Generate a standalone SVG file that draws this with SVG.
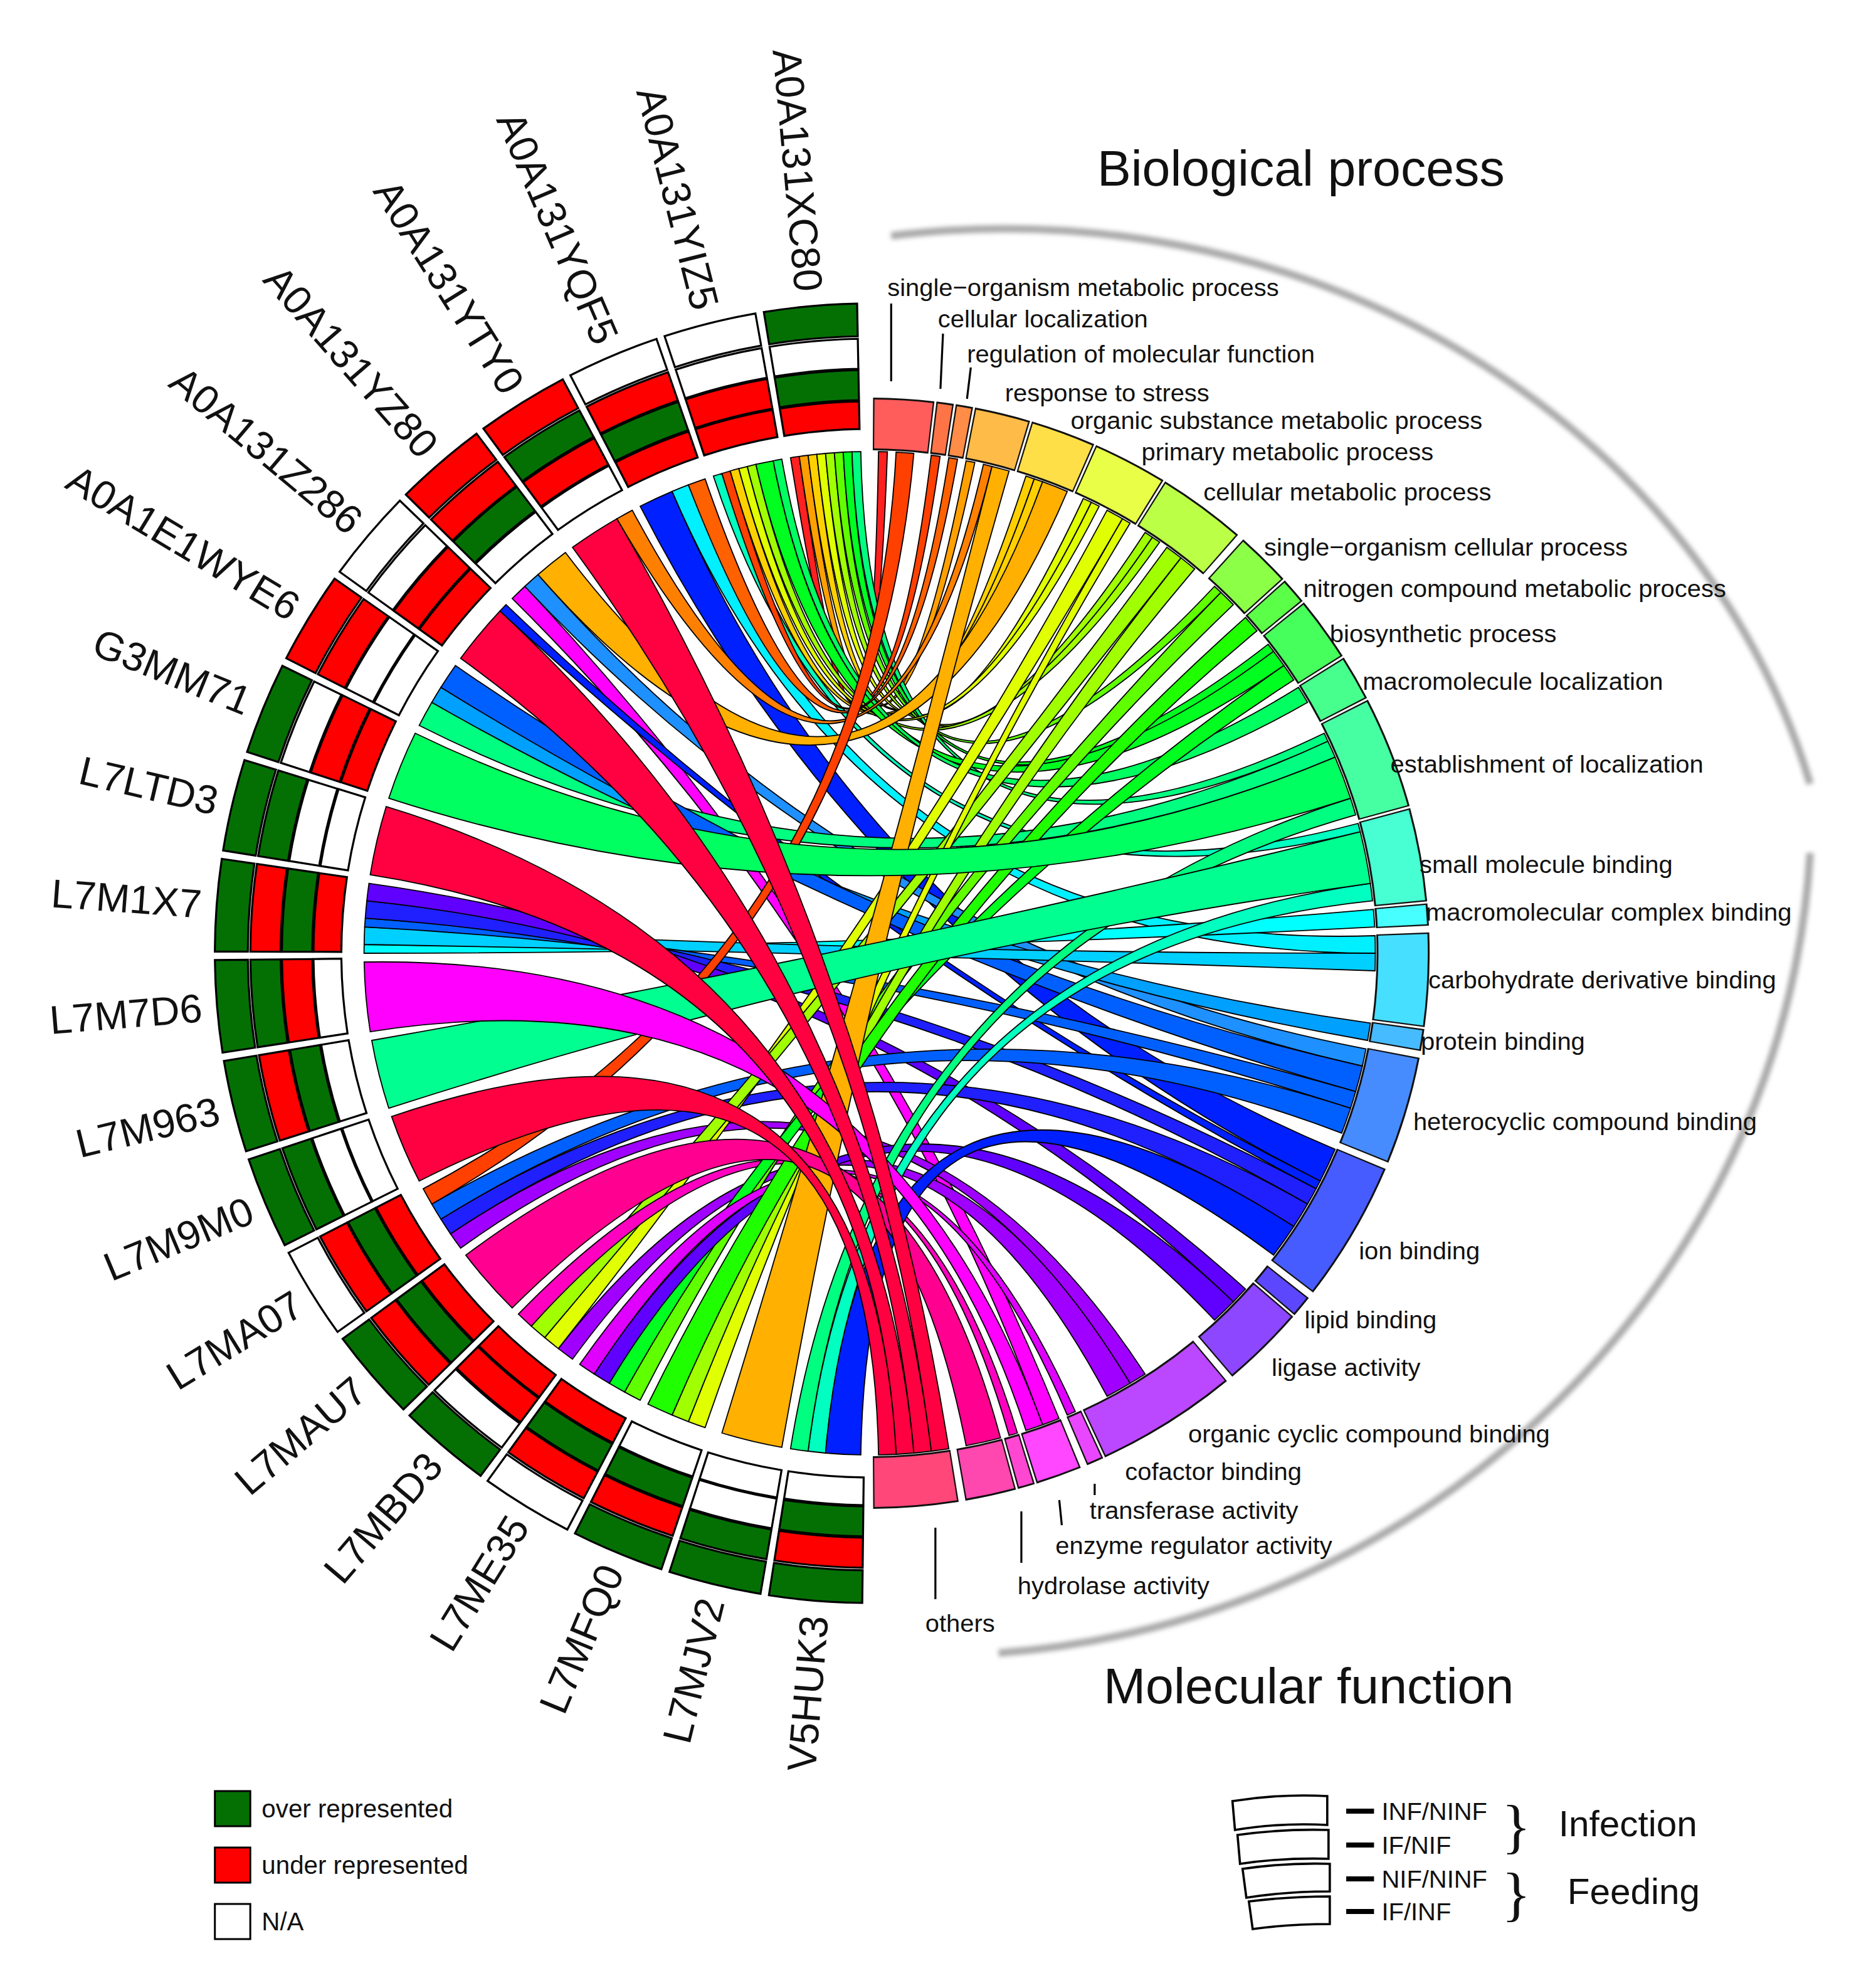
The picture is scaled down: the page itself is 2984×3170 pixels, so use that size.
<svg xmlns="http://www.w3.org/2000/svg" xmlns:xlink="http://www.w3.org/1999/xlink" width="2984" height="3170" viewBox="0 0 2984 3170">
<style>
text{font-family:"Liberation Sans",Arial,sans-serif;fill:#111}
.gl{font-size:32px}
.go{font-size:19.8px}
.lg{font-size:20px}
.ttl{font-size:40px}
.g{fill:#047004}.r{fill:#ff0000}.w{fill:#fff}
.sec{stroke:#000;stroke-width:1.6}
.gb{fill:none;stroke:#111;stroke-width:42}
.gf{fill:none;stroke-width:39}
#connectors path{stroke:#000;stroke-width:0.9}
.ld{stroke:#000;stroke-width:1.6}
</style>
<defs>
<path id="A" d="M-37.04,-516.7 A518,518 0 0 1 37.04,-516.7 L35.18,-490.7 A492,492 0 0 0 -35.18,-490.7Z"/>
<path id="B" d="M-35.04,-488.7 A490,490 0 0 1 35.04,-488.7 L33.32,-464.8 A466,466 0 0 0 -33.32,-464.8Z"/>
<path id="C" d="M-33.25,-463.8 A465,465 0 0 1 33.25,-463.8 L31.53,-439.9 A441,441 0 0 0 -31.53,-439.9Z"/>
<path id="D" d="M-31.46,-438.9 A440,440 0 0 1 31.46,-438.9 L29.89,-416.9 A418,418 0 0 0 -29.89,-416.9Z"/>
<filter id="bl"><feGaussianBlur stdDeviation="1.8"/></filter>
</defs>
<rect width="2984" height="3170" fill="#fff"/>
<g transform="scale(2.016,2)">
<g id="titles">
<text class="ttl" x="868" y="148">Biological process</text>
<text class="ttl" x="873" y="1358">Molecular function</text>
<path d="M705,188 A660,600 0 0 1 1432,625" fill="none" stroke="#aaa" stroke-width="6" filter="url(#bl)"/>
<path d="M1432,680 A700,680 0 0 1 790,1318" fill="none" stroke="#aaa" stroke-width="6" filter="url(#bl)"/>
</g>

<g id="connectors" transform="translate(688,760)">
<path fill="#ff2020" d="M-62.6,-395.1 A400,400 0 0 1 -55.7,-396.1 Q0,0 7,-399.9 A400,400 0 0 1 14,-399.8 Q0,0 -62.6,-395.1Z"/>
<path fill="#ffa000" d="M-55.7,-396.1 A400,400 0 0 1 -48.7,-397.0 Q0,0 76.3,-392.6 A400,400 0 0 1 83.2,-391.3 Q0,0 -55.7,-396.1Z"/>
<path fill="#ffd000" d="M-48.7,-397.0 A400,400 0 0 1 -41.8,-397.8 Q0,0 123.6,-380.4 A400,400 0 0 1 130.2,-378.2 Q0,0 -48.7,-397.0Z"/>
<path fill="#e0ff00" d="M-41.8,-397.8 A400,400 0 0 1 -34.9,-398.5 Q0,0 169,-362.5 A400,400 0 0 1 175.4,-359.5 Q0,0 -41.8,-397.8Z"/>
<path fill="#a0ff00" d="M-34.9,-398.5 A400,400 0 0 1 -27.9,-399 Q0,0 217.9,-335.5 A400,400 0 0 1 223.7,-331.6 Q0,0 -34.9,-398.5Z"/>
<path fill="#60ff00" d="M-27.9,-399 A400,400 0 0 1 -20.9,-399.5 Q0,0 272.8,-292.5 A400,400 0 0 1 277.9,-287.7 Q0,0 -27.9,-399Z"/>
<path fill="#00ff20" d="M-20.9,-399.5 A400,400 0 0 1 -14,-399.8 Q0,0 315.2,-246.3 A400,400 0 0 1 319.5,-240.7 Q0,0 -20.9,-399.5Z"/>
<path fill="#00ff80" d="M-14,-399.8 A400,400 0 0 1 -7,-399.9 Q0,0 359.5,-175.4 A400,400 0 0 1 362.5,-169 Q0,0 -14,-399.8Z"/>
<path fill="#00ffc0" d="M-123.6,-380.4 A400,400 0 0 1 -116.9,-382.5 Q0,0 386.4,-103.5 A400,400 0 0 1 388.1,-96.8 Q0,0 -123.6,-380.4Z"/>
<path fill="#ff4000" d="M-116.9,-382.5 A400,400 0 0 1 -110.3,-384.5 Q0,0 48.7,-397 A400,400 0 0 1 55.7,-396.1 Q0,0 -116.9,-382.5Z"/>
<path fill="#ffd000" d="M-110.3,-384.5 A400,400 0 0 1 -103.5,-386.4 Q0,0 130.2,-378.2 A400,400 0 0 1 136.8,-375.9 Q0,0 -110.3,-384.5Z"/>
<path fill="#e0ff00" d="M-103.5,-386.4 A400,400 0 0 1 -96.8,-388.1 Q0,0 175.4,-359.5 A400,400 0 0 1 181.6,-356.4 Q0,0 -103.5,-386.4Z"/>
<path fill="#a0ff00" d="M-96.8,-388.1 A400,400 0 0 1 -90,-389.8 Q0,0 223.7,-331.6 A400,400 0 0 1 229.4,-327.7 Q0,0 -96.8,-388.1Z"/>
<path fill="#00ff20" d="M-90,-389.8 A400,400 0 0 1 -76.3,-392.6 Q0,0 319.5,-240.7 A400,400 0 0 1 327.7,-229.4 Q0,0 -90,-389.8Z"/>
<path fill="#00ff60" d="M-76.3,-392.6 A400,400 0 0 1 -69.5,-393.9 Q0,0 339.2,-212 A400,400 0 0 1 346.4,-200 Q0,0 -76.3,-392.6Z"/>
<path fill="#0020ff" d="M-181.6,-356.4 A400,400 0 0 1 -156.3,-368.2 Q0,0 368.2,156.3 A400,400 0 0 1 356.4,181.6 Q0,0 -181.6,-356.4Z"/>
<path fill="#00f0ff" d="M-156.3,-368.2 A400,400 0 0 1 -143.4,-373.4 Q0,0 399.8,-14 A400,400 0 0 1 400,0 Q0,0 -156.3,-368.2Z"/>
<path fill="#ff6000" d="M-143.4,-373.4 A400,400 0 0 1 -130.2,-378.2 Q0,0 62.6,-395.1 A400,400 0 0 1 69.5,-393.9 Q0,0 -143.4,-373.4Z"/>
<path fill="#ff8000" d="M-200,-346.4 A400,400 0 0 1 -187.8,-353.2 Q0,0 90,-389.8 A400,400 0 0 1 96.8,-388.1 Q0,0 -200,-346.4Z"/>
<path fill="#ff00ff" d="M-282.8,-282.8 A400,400 0 0 1 -272.8,-292.5 Q0,0 149.8,370.9 A400,400 0 0 1 136.8,375.9 Q0,0 -282.8,-282.8Z"/>
<path fill="#1e90ff" d="M-272.8,-292.5 A400,400 0 0 1 -262.4,-301.9 Q0,0 392.6,76.3 A400,400 0 0 1 389.8,90 Q0,0 -272.8,-292.5Z"/>
<path fill="#ffb000" d="M-262.4,-301.9 A400,400 0 0 1 -240.7,-319.5 Q0,0 136.8,-375.9 A400,400 0 0 1 156.3,-368.2 Q0,0 -262.4,-301.9Z"/>
<path fill="#0020ff" d="M-292.5,-272.8 A400,400 0 0 1 -287.7,-277.9 Q0,0 356.4,181.6 A400,400 0 0 1 353.2,187.8 Q0,0 -292.5,-272.8Z"/>
<path fill="#00ff80" d="M-356.4,-181.6 A400,400 0 0 1 -346.4,-200 Q0,0 362.5,-169 A400,400 0 0 1 368.2,-156.3 Q0,0 -356.4,-181.6Z"/>
<path fill="#00a0ff" d="M-346.4,-200 A400,400 0 0 1 -339.2,-212 Q0,0 396.1,55.7 A400,400 0 0 1 393.9,69.5 Q0,0 -346.4,-200Z"/>
<path fill="#0060ff" d="M-339.2,-212 A400,400 0 0 1 -327.7,-229.4 Q0,0 389.8,90 A400,400 0 0 1 384.5,110.3 Q0,0 -339.2,-212Z"/>
<path fill="#00ffff" d="M-400,0 A400,400 0 0 1 -399.9,-7 Q0,0 398.5,-34.9 A400,400 0 0 1 399.5,-20.9 Q0,0 -400,0Z"/>
<path fill="#00d0ff" d="M-399.9,-7 A400,400 0 0 1 -399.5,-20.9 Q0,0 400,0 A400,400 0 0 1 399.8,14 Q0,0 -399.9,-7Z"/>
<path fill="#0060ff" d="M-399.5,-20.9 A400,400 0 0 1 -399,-27.9 Q0,0 384.5,110.3 A400,400 0 0 1 380.4,123.6 Q0,0 -399.5,-20.9Z"/>
<path fill="#2020ff" d="M-399,-27.9 A400,400 0 0 1 -397.8,-41.8 Q0,0 353.2,187.8 A400,400 0 0 1 346.4,200 Q0,0 -399,-27.9Z"/>
<path fill="#6000ff" d="M-397.8,-41.8 A400,400 0 0 1 -396.1,-55.7 Q0,0 297.3,267.7 A400,400 0 0 1 287.7,277.9 Q0,0 -397.8,-41.8Z"/>
<path fill="#a000ff" d="M-323.6,235.1 A400,400 0 0 1 -331.6,223.7 Q0,0 217.9,335.5 A400,400 0 0 1 206,342.9 Q0,0 -323.6,235.1Z"/>
<path fill="#2020ff" d="M-331.6,223.7 A400,400 0 0 1 -339.2,212 Q0,0 346.4,200 A400,400 0 0 1 335.5,217.9 Q0,0 -331.6,223.7Z"/>
<path fill="#0060ff" d="M-339.2,212 A400,400 0 0 1 -346.4,200 Q0,0 380.4,123.6 A400,400 0 0 1 373.4,143.4 Q0,0 -339.2,212Z"/>
<path fill="#ff4000" d="M-346.4,200 A400,400 0 0 1 -353.2,187.8 Q0,0 20.9,-399.5 A400,400 0 0 1 34.9,-398.5 Q0,0 -346.4,200Z"/>
<path fill="#a000ff" d="M-235.1,323.6 A400,400 0 0 1 -246.3,315.2 Q0,0 206,342.9 A400,400 0 0 1 187.8,353.2 Q0,0 -235.1,323.6Z"/>
<path fill="#e0ff00" d="M-246.3,315.2 A400,400 0 0 1 -257.1,306.4 Q0,0 187.8,-353.2 A400,400 0 0 1 200,-346.4 Q0,0 -246.3,315.2Z"/>
<path fill="#a0ff00" d="M-257.1,306.4 A400,400 0 0 1 -267.7,297.3 Q0,0 235.1,-323.6 A400,400 0 0 1 246.3,-315.2 Q0,0 -257.1,306.4Z"/>
<path fill="#ff00c0" d="M-267.7,297.3 A400,400 0 0 1 -277.9,287.7 Q0,0 116.9,382.5 A400,400 0 0 1 110.3,384.5 Q0,0 -267.7,297.3Z"/>
<path fill="#60ff00" d="M-181.6,356.4 A400,400 0 0 1 -193.9,349.8 Q0,0 277.9,-287.7 A400,400 0 0 1 287.7,-277.9 Q0,0 -181.6,356.4Z"/>
<path fill="#00ff20" d="M-193.9,349.8 A400,400 0 0 1 -206,342.9 Q0,0 327.7,-229.4 A400,400 0 0 1 335.5,-217.9 Q0,0 -193.9,349.8Z"/>
<path fill="#6000ff" d="M-206,342.9 A400,400 0 0 1 -217.9,335.5 Q0,0 287.7,277.9 A400,400 0 0 1 272.8,292.5 Q0,0 -206,342.9Z"/>
<path fill="#e000ff" d="M-217.9,335.5 A400,400 0 0 1 -229.4,327.7 Q0,0 162.7,365.4 A400,400 0 0 1 156.3,368.2 Q0,0 -217.9,335.5Z"/>
<path fill="#e0ff00" d="M-130.2,378.2 A400,400 0 0 1 -143.4,373.4 Q0,0 200,-346.4 A400,400 0 0 1 206,-342.9 Q0,0 -130.2,378.2Z"/>
<path fill="#a0ff00" d="M-143.4,373.4 A400,400 0 0 1 -156.3,368.2 Q0,0 246.3,-315.2 A400,400 0 0 1 257.1,-306.4 Q0,0 -143.4,373.4Z"/>
<path fill="#20ff00" d="M-156.3,368.2 A400,400 0 0 1 -175.4,359.5 Q0,0 297.3,-267.7 A400,400 0 0 1 306.4,-257.1 Q0,0 -156.3,368.2Z"/>
<path fill="#00ffc0" d="M-34.9,398.5 A400,400 0 0 1 -48.7,397 Q0,0 396.1,-55.7 A400,400 0 0 1 397.8,-41.8 Q0,0 -34.9,398.5Z"/>
<path fill="#00ff80" d="M-48.7,397 A400,400 0 0 1 -62.6,395.1 Q0,0 380.4,-123.6 A400,400 0 0 1 384.5,-110.3 Q0,0 -48.7,397Z"/>
<path fill="#0020ff" d="M-7,399.9 A400,400 0 0 1 -34.9,398.5 Q0,0 335.5,217.9 A400,400 0 0 1 319.5,240.7 Q0,0 -7,399.9Z"/>
<path fill="#ffb000" d="M-69.5,393.9 A400,400 0 0 1 -116.9,382.5 Q0,0 96.8,-388.1 A400,400 0 0 1 110.3,-384.5 Q0,0 -69.5,393.9Z"/>
<path fill="#00ff60" d="M-380.4,-123.6 A400,400 0 0 1 -359.5,-175.4 Q0,0 368.2,-156.3 A400,400 0 0 1 380.4,-123.6 Q0,0 -380.4,-123.6Z"/>
<path fill="#00ff90" d="M-380.4,123.6 A400,400 0 0 1 -393.9,69.5 Q0,0 388.1,-96.8 A400,400 0 0 1 396.1,-55.7 Q0,0 -380.4,123.6Z"/>
<path fill="#ff0090" d="M-282.8,282.8 A400,400 0 0 1 -319.5,240.7 Q0,0 103.5,386.4 A400,400 0 0 1 76.3,392.6 Q0,0 -282.8,282.8Z"/>
<path fill="#ff00ff" d="M-395.1,62.6 A400,400 0 0 1 -399.9,7 Q0,0 136.8,375.9 A400,400 0 0 1 123.6,380.4 Q0,0 -395.1,62.6Z"/>
<path fill="#ff0040" d="M-235.1,-323.6 A400,400 0 0 1 -200,-346.4 Q0,0 62.6,395.1 A400,400 0 0 1 48.7,397 Q0,0 -235.1,-323.6Z"/>
<path fill="#ff0040" d="M-323.6,-235.1 A400,400 0 0 1 -292.5,-272.8 Q0,0 48.7,397 A400,400 0 0 1 34.9,398.5 Q0,0 -323.6,-235.1Z"/>
<path fill="#ff0040" d="M-395.1,-62.6 A400,400 0 0 1 -382.5,-116.9 Q0,0 34.9,398.5 A400,400 0 0 1 20.9,399.5 Q0,0 -395.1,-62.6Z"/>
<path fill="#ff0040" d="M-356.4,181.6 A400,400 0 0 1 -378.2,130.2 Q0,0 20.9,399.5 A400,400 0 0 1 7,399.9 Q0,0 -356.4,181.6Z"/>
</g>

<g id="go-ring" transform="translate(688,760)">
<circle r="422" pathLength="360" class="gb" stroke-dasharray="6.3 400" transform="rotate(-89.65)"/><circle r="422" pathLength="360" class="gf" stroke="#ff5c5c" stroke-dasharray="6 400" transform="rotate(-89.5)"/>
<circle r="422" pathLength="360" class="gb" stroke-dasharray="1.8 400" transform="rotate(-83.15)"/><circle r="422" pathLength="360" class="gf" stroke="#ff7447" stroke-dasharray="1.5 400" transform="rotate(-83)"/>
<circle r="422" pathLength="360" class="gb" stroke-dasharray="1.8 400" transform="rotate(-81.15)"/><circle r="422" pathLength="360" class="gf" stroke="#ff8c47" stroke-dasharray="1.5 400" transform="rotate(-81)"/>
<circle r="422" pathLength="360" class="gb" stroke-dasharray="5.8 400" transform="rotate(-79.15)"/><circle r="422" pathLength="360" class="gf" stroke="#ffbb47" stroke-dasharray="5.5 400" transform="rotate(-79)"/>
<circle r="422" pathLength="360" class="gb" stroke-dasharray="6.8 400" transform="rotate(-73.15)"/><circle r="422" pathLength="360" class="gf" stroke="#ffdf47" stroke-dasharray="6.5 400" transform="rotate(-73)"/>
<circle r="422" pathLength="360" class="gb" stroke-dasharray="7.8 400" transform="rotate(-66.15)"/><circle r="422" pathLength="360" class="gf" stroke="#e9ff47" stroke-dasharray="7.5 400" transform="rotate(-66)"/>
<circle r="422" pathLength="360" class="gb" stroke-dasharray="9.3 400" transform="rotate(-58.15)"/><circle r="422" pathLength="360" class="gf" stroke="#bbff47" stroke-dasharray="9 400" transform="rotate(-58)"/>
<circle r="422" pathLength="360" class="gb" stroke-dasharray="5.8 400" transform="rotate(-48.15)"/><circle r="422" pathLength="360" class="gf" stroke="#8cff47" stroke-dasharray="5.5 400" transform="rotate(-48)"/>
<circle r="422" pathLength="360" class="gb" stroke-dasharray="2.8 400" transform="rotate(-42.15)"/><circle r="422" pathLength="360" class="gf" stroke="#5cff47" stroke-dasharray="2.5 400" transform="rotate(-42)"/>
<circle r="422" pathLength="360" class="gb" stroke-dasharray="6.8 400" transform="rotate(-39.15)"/><circle r="422" pathLength="360" class="gf" stroke="#47ff5c" stroke-dasharray="6.5 400" transform="rotate(-39)"/>
<circle r="422" pathLength="360" class="gb" stroke-dasharray="4.8 400" transform="rotate(-32.15)"/><circle r="422" pathLength="360" class="gf" stroke="#47ff8c" stroke-dasharray="4.5 400" transform="rotate(-32)"/>
<circle r="422" pathLength="360" class="gb" stroke-dasharray="11.8 400" transform="rotate(-27.15)"/><circle r="422" pathLength="360" class="gf" stroke="#47ffa3" stroke-dasharray="11.5 400" transform="rotate(-27)"/>
<circle r="422" pathLength="360" class="gb" stroke-dasharray="9.8 400" transform="rotate(-15.15)"/><circle r="422" pathLength="360" class="gf" stroke="#47ffd2" stroke-dasharray="9.5 400" transform="rotate(-15)"/>
<circle r="422" pathLength="360" class="gb" stroke-dasharray="2.3 400" transform="rotate(-5.15)"/><circle r="422" pathLength="360" class="gf" stroke="#47ffff" stroke-dasharray="2 400" transform="rotate(-5)"/>
<circle r="422" pathLength="360" class="gb" stroke-dasharray="9.8 400" transform="rotate(-2.15)"/><circle r="422" pathLength="360" class="gf" stroke="#47dfff" stroke-dasharray="9.5 400" transform="rotate(-2)"/>
<circle r="422" pathLength="360" class="gb" stroke-dasharray="2.3 400" transform="rotate(7.85)"/><circle r="422" pathLength="360" class="gf" stroke="#47bbff" stroke-dasharray="2 400" transform="rotate(8)"/>
<circle r="422" pathLength="360" class="gb" stroke-dasharray="11.3 400" transform="rotate(10.85)"/><circle r="422" pathLength="360" class="gf" stroke="#478cff" stroke-dasharray="11 400" transform="rotate(11)"/>
<circle r="422" pathLength="360" class="gb" stroke-dasharray="14.8 400" transform="rotate(22.85)"/><circle r="422" pathLength="360" class="gf" stroke="#475cff" stroke-dasharray="14.5 400" transform="rotate(23)"/>
<circle r="422" pathLength="360" class="gb" stroke-dasharray="2.3 400" transform="rotate(38.35)"/><circle r="422" pathLength="360" class="gf" stroke="#5c47ff" stroke-dasharray="2 400" transform="rotate(38.5)"/>
<circle r="422" pathLength="360" class="gb" stroke-dasharray="8.8 400" transform="rotate(40.85)"/><circle r="422" pathLength="360" class="gf" stroke="#8c47ff" stroke-dasharray="8.5 400" transform="rotate(41)"/>
<circle r="422" pathLength="360" class="gb" stroke-dasharray="14.8 400" transform="rotate(50.35)"/><circle r="422" pathLength="360" class="gf" stroke="#bb47ff" stroke-dasharray="14.5 400" transform="rotate(50.5)"/>
<circle r="422" pathLength="360" class="gb" stroke-dasharray="1.8 400" transform="rotate(65.35)"/><circle r="422" pathLength="360" class="gf" stroke="#e947ff" stroke-dasharray="1.5 400" transform="rotate(65.5)"/>
<circle r="422" pathLength="360" class="gb" stroke-dasharray="4.8 400" transform="rotate(67.85)"/><circle r="422" pathLength="360" class="gf" stroke="#ff47ff" stroke-dasharray="4.5 400" transform="rotate(68)"/>
<circle r="422" pathLength="360" class="gb" stroke-dasharray="1.8 400" transform="rotate(72.85)"/><circle r="422" pathLength="360" class="gf" stroke="#ff47d2" stroke-dasharray="1.5 400" transform="rotate(73)"/>
<circle r="422" pathLength="360" class="gb" stroke-dasharray="5.3 400" transform="rotate(74.85)"/><circle r="422" pathLength="360" class="gf" stroke="#ff47b0" stroke-dasharray="5 400" transform="rotate(75)"/>
<circle r="422" pathLength="360" class="gb" stroke-dasharray="8.8 400" transform="rotate(80.85)"/><circle r="422" pathLength="360" class="gf" stroke="#ff4779" stroke-dasharray="8.5 400" transform="rotate(81)"/>
</g>

<g id="go-labels">
<line class="ld" x1="705" y1="242" x2="705" y2="304"/>
<line class="ld" x1="746" y1="266" x2="744" y2="310"/>
<line class="ld" x1="768" y1="293" x2="765" y2="318"/>
<line class="ld" x1="740" y1="1218" x2="740" y2="1275"/>
<line class="ld" x1="808" y1="1205" x2="808" y2="1246"/>
<line class="ld" x1="838" y1="1196" x2="840" y2="1216"/>
<line class="ld" x1="866" y1="1183" x2="866" y2="1192"/>
<text class="go" x="702" y="236">single−organism metabolic process</text>
<text class="go" x="742" y="261">cellular localization</text>
<text class="go" x="765" y="289">regulation of molecular function</text>
<text class="go" x="795" y="320">response to stress</text>
<text class="go" x="847" y="342">organic substance metabolic process</text>
<text class="go" x="903" y="367">primary metabolic process</text>
<text class="go" x="952" y="399">cellular metabolic process</text>
<text class="go" x="1000" y="443">single−organism cellular process</text>
<text class="go" x="1031" y="476">nitrogen compound metabolic process</text>
<text class="go" x="1052" y="512">biosynthetic process</text>
<text class="go" x="1078" y="550">macromolecule localization</text>
<text class="go" x="1100" y="616">establishment of localization</text>
<text class="go" x="1123" y="696">small molecule binding</text>
<text class="go" x="1128" y="734">macromolecular complex binding</text>
<text class="go" x="1130" y="788">carbohydrate derivative binding</text>
<text class="go" x="1124" y="837">protein binding</text>
<text class="go" x="1118" y="901">heterocyclic compound binding</text>
<text class="go" x="1075" y="1004">ion binding</text>
<text class="go" x="1032" y="1059">lipid binding</text>
<text class="go" x="1006" y="1097">ligase activity</text>
<text class="go" x="940" y="1150">organic cyclic compound binding</text>
<text class="go" x="890" y="1180">cofactor binding</text>
<text class="go" x="862" y="1211">transferase activity</text>
<text class="go" x="835" y="1239">enzyme regulator activity</text>
<text class="go" x="805" y="1271">hydrolase activity</text>
<text class="go" x="732" y="1301">others</text>
</g>

<g id="gene-A0A131XC80" transform="translate(688,760) rotate(-5.2)"><use href="#A" class="sec g"/><use href="#B" class="sec w"/><use href="#C" class="sec g"/><use href="#D" class="sec r"/><text class="gl" transform="translate(0,-530) rotate(90)" text-anchor="end" dy="0.35em">A0A131XC80</text></g>
<g id="gene-A0A131YIZ5" transform="translate(688,760) rotate(-14.15)"><use href="#A" class="sec w"/><use href="#B" class="sec w"/><use href="#C" class="sec r"/><use href="#D" class="sec r"/><text class="gl" transform="translate(0,-530) rotate(90)" text-anchor="end" dy="0.35em">A0A131YIZ5</text></g>
<g id="gene-A0A131YQF5" transform="translate(688,760) rotate(-23.1)"><use href="#A" class="sec w"/><use href="#B" class="sec r"/><use href="#C" class="sec g"/><use href="#D" class="sec r"/><text class="gl" transform="translate(0,-530) rotate(90)" text-anchor="end" dy="0.35em">A0A131YQF5</text></g>
<g id="gene-A0A131YTY0" transform="translate(688,760) rotate(-32.05)"><use href="#A" class="sec r"/><use href="#B" class="sec g"/><use href="#C" class="sec r"/><use href="#D" class="sec w"/><text class="gl" transform="translate(0,-530) rotate(90)" text-anchor="end" dy="0.35em">A0A131YTY0</text></g>
<g id="gene-A0A131YZ80" transform="translate(688,760) rotate(-41)"><use href="#A" class="sec r"/><use href="#B" class="sec r"/><use href="#C" class="sec g"/><use href="#D" class="sec w"/><text class="gl" transform="translate(0,-530) rotate(90)" text-anchor="end" dy="0.35em">A0A131YZ80</text></g>
<g id="gene-A0A131Z286" transform="translate(688,760) rotate(-49.95)"><use href="#A" class="sec w"/><use href="#B" class="sec w"/><use href="#C" class="sec r"/><use href="#D" class="sec r"/><text class="gl" transform="translate(0,-530) rotate(90)" text-anchor="end" dy="0.35em">A0A131Z286</text></g>
<g id="gene-A0A1E1WYE6" transform="translate(688,760) rotate(-58.9)"><use href="#A" class="sec r"/><use href="#B" class="sec r"/><use href="#C" class="sec w"/><use href="#D" class="sec w"/><text class="gl" transform="translate(0,-530) rotate(90)" text-anchor="end" dy="0.35em">A0A1E1WYE6</text></g>
<g id="gene-G3MM71" transform="translate(688,760) rotate(-67.85)"><use href="#A" class="sec g"/><use href="#B" class="sec w"/><use href="#C" class="sec r"/><use href="#D" class="sec r"/><text class="gl" transform="translate(0,-530) rotate(90)" text-anchor="end" dy="0.35em">G3MM71</text></g>
<g id="gene-L7LTD3" transform="translate(688,760) rotate(-76.8)"><use href="#A" class="sec g"/><use href="#B" class="sec g"/><use href="#C" class="sec w"/><use href="#D" class="sec w"/><text class="gl" transform="translate(0,-530) rotate(90)" text-anchor="end" dy="0.35em">L7LTD3</text></g>
<g id="gene-L7M1X7" transform="translate(688,760) rotate(-85.75)"><use href="#A" class="sec g"/><use href="#B" class="sec r"/><use href="#C" class="sec g"/><use href="#D" class="sec r"/><text class="gl" transform="translate(0,-530) rotate(90)" text-anchor="end" dy="0.35em">L7M1X7</text></g>
<g id="gene-L7M7D6" transform="translate(688,760) rotate(-94.7)"><use href="#A" class="sec g"/><use href="#B" class="sec g"/><use href="#C" class="sec r"/><use href="#D" class="sec w"/><text class="gl" transform="translate(0,-530) rotate(90)" text-anchor="end" dy="0.35em">L7M7D6</text></g>
<g id="gene-L7M963" transform="translate(688,760) rotate(-103.65)"><use href="#A" class="sec g"/><use href="#B" class="sec r"/><use href="#C" class="sec g"/><use href="#D" class="sec w"/><text class="gl" transform="translate(0,-530) rotate(90)" text-anchor="end" dy="0.35em">L7M963</text></g>
<g id="gene-L7M9M0" transform="translate(688,760) rotate(-112.6)"><use href="#A" class="sec g"/><use href="#B" class="sec g"/><use href="#C" class="sec w"/><use href="#D" class="sec w"/><text class="gl" transform="translate(0,-530) rotate(90)" text-anchor="end" dy="0.35em">L7M9M0</text></g>
<g id="gene-L7MA07" transform="translate(688,760) rotate(-121.55)"><use href="#A" class="sec w"/><use href="#B" class="sec r"/><use href="#C" class="sec g"/><use href="#D" class="sec r"/><text class="gl" transform="translate(0,-530) rotate(90)" text-anchor="end" dy="0.35em">L7MA07</text></g>
<g id="gene-L7MAU7" transform="translate(688,760) rotate(-130.5)"><use href="#A" class="sec g"/><use href="#B" class="sec r"/><use href="#C" class="sec g"/><use href="#D" class="sec r"/><text class="gl" transform="translate(0,-530) rotate(90)" text-anchor="end" dy="0.35em">L7MAU7</text></g>
<g id="gene-L7MBD3" transform="translate(688,760) rotate(-139.45)"><use href="#A" class="sec g"/><use href="#B" class="sec w"/><use href="#C" class="sec r"/><use href="#D" class="sec r"/><text class="gl" transform="translate(0,-530) rotate(90)" text-anchor="end" dy="0.35em">L7MBD3</text></g>
<g id="gene-L7ME35" transform="translate(688,760) rotate(-148.4)"><use href="#A" class="sec w"/><use href="#B" class="sec r"/><use href="#C" class="sec g"/><use href="#D" class="sec r"/><text class="gl" transform="translate(0,-530) rotate(90)" text-anchor="end" dy="0.35em">L7ME35</text></g>
<g id="gene-L7MFQ0" transform="translate(688,760) rotate(-157.35)"><use href="#A" class="sec g"/><use href="#B" class="sec r"/><use href="#C" class="sec g"/><use href="#D" class="sec w"/><text class="gl" transform="translate(0,-530) rotate(90)" text-anchor="end" dy="0.35em">L7MFQ0</text></g>
<g id="gene-L7MJV2" transform="translate(688,760) rotate(-166.3)"><use href="#A" class="sec g"/><use href="#B" class="sec g"/><use href="#C" class="sec w"/><use href="#D" class="sec w"/><text class="gl" transform="translate(0,-530) rotate(90)" text-anchor="end" dy="0.35em">L7MJV2</text></g>
<g id="gene-V5HUK3" transform="translate(688,760) rotate(-175.25)"><use href="#A" class="sec g"/><use href="#B" class="sec r"/><use href="#C" class="sec g"/><use href="#D" class="sec w"/><text class="gl" transform="translate(0,-530) rotate(90)" text-anchor="end" dy="0.35em">V5HUK3</text></g>

<g id="legend-colors">
<rect x="170" y="1428" width="28" height="28" class="g" stroke="#000" stroke-width="1.5"/>
<rect x="170" y="1473" width="28" height="28" class="r" stroke="#000" stroke-width="1.5"/>
<rect x="170" y="1518" width="28" height="28" class="w" stroke="#000" stroke-width="1.5"/>
<text class="lg" x="207" y="1449">over represented</text>
<text class="lg" x="207" y="1494">under represented</text>
<text class="lg" x="207" y="1539">N/A</text>
</g>
<g id="legend-rings" fill="#fff" stroke="#000" stroke-width="1.8">
<path d="M975,1436 Q1012,1430 1050,1432 L1050,1455 Q1012,1453 977,1459Z"/>
<path d="M979,1463 Q1014,1458 1051,1459 L1051,1482 Q1014,1481 981,1486Z"/>
<path d="M983,1490 Q1017,1485 1052,1486 L1052,1508 Q1017,1508 986,1513Z"/>
<path d="M988,1516 Q1020,1512 1052,1512 L1052,1534 Q1020,1534 991,1538Z"/>
<line x1="1065" y1="1444" x2="1087" y2="1444" stroke-width="4"/>
<line x1="1065" y1="1471" x2="1087" y2="1471" stroke-width="4"/>
<line x1="1065" y1="1498" x2="1087" y2="1498" stroke-width="4"/>
<line x1="1065" y1="1524" x2="1087" y2="1524" stroke-width="4"/>
</g>
<g id="legend-ring-labels">
<text class="go" x="1093" y="1451">INF/NINF</text>
<text class="go" x="1093" y="1478">IF/NIF</text>
<text class="go" x="1093" y="1505">NIF/NINF</text>
<text class="go" x="1093" y="1531">IF/INF</text>
<text x="1188" y="1472" style="font-size:48px;font-family:'Liberation Serif',serif">}</text>
<text x="1188" y="1526" style="font-size:48px;font-family:'Liberation Serif',serif">}</text>
<text x="1233" y="1464" style="font-size:29px">Infection</text>
<text x="1240" y="1518" style="font-size:29px">Feeding</text>
</g>
</g>
</svg>
